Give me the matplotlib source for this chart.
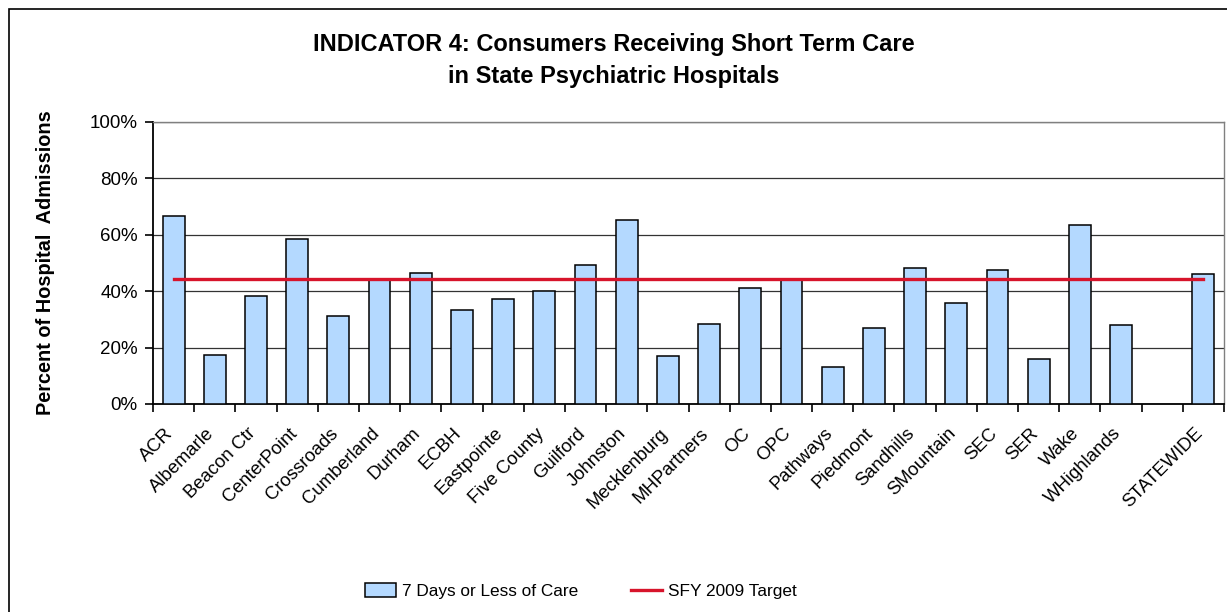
import numpy as np
import matplotlib.pyplot as plt
import matplotlib.transforms as mtransforms
from matplotlib.ticker import PercentFormatter

plt.rcParams['font.family'] = ['Liberation Sans', 'DejaVu Sans']

lmes = ['ACR', 'Albemarle', 'Beacon Ctr', 'CenterPoint', 'Crossroads', 'Cumberland',
        'Durham', 'ECBH', 'Eastpointe', 'Five County', 'Guilford', 'Johnston',
        'Mecklenburg', 'MHPartners', 'OC', 'OPC', 'Pathways', 'Piedmont', 'Sandhills',
        'SMountain', 'SEC', 'SER', 'Wake', 'WHighlands', '', 'STATEWIDE']
pct_7days = [66.7, 17.5, 38.3, 58.5, 31.1, 44.5, 46.5, 33.3, 37.2, 40.0, 49.3, 65.1,
             17.0, 28.5, 41.0, 44.4, 13.2, 26.8, 48.1, 35.7, 47.6, 16.0, 63.5, 27.9,
             np.nan, 46.0]
target = 44.2

x = np.arange(len(lmes))

fig = plt.figure(figsize=(12.27, 6.12), dpi=100)
ax = fig.add_axes([153/1227, 1-404/612, (1224-153)/1227, (404-122)/612])

bars = ax.bar(x, pct_7days, width=0.53, color='#B4D9FF', edgecolor='black', linewidth=1.1,
              label='7 Days or Less of Care', zorder=3)
line, = ax.plot([x[0], x[-1]], [target, target], color='#D7142B', linewidth=2.4,
                label='SFY 2009 Target', zorder=4)

ax.set_xlim(-0.5, len(lmes) - 0.5)
ax.set_ylim(0, 100)
ax.set_yticks(range(0, 101, 20))
ax.yaxis.set_major_formatter(PercentFormatter(decimals=0))
ax.grid(axis='y', color='#333333', linewidth=0.9, zorder=0)
ax.tick_params(axis='y', direction='out', length=6, width=1.2, labelsize=13.5, pad=5)

ax.set_xticks(x)
ax.set_xticklabels(lmes, rotation=45, ha='right', va='top', rotation_mode='anchor',
                   fontsize=13.3)
ax.tick_params(axis='x', which='major', length=0, pad=15)
# nudge the rotated labels a little to the left, like the original
shift = mtransforms.ScaledTranslation(-9/100, 0, fig.dpi_scale_trans)
for lab in ax.get_xticklabels():
    lab.set_transform(lab.get_transform() + shift)
ax.set_xticks(np.arange(-0.5, len(lmes)), minor=True)
ax.tick_params(axis='x', which='minor', direction='out', length=6, width=1.2)

for side in ['left', 'bottom']:
    ax.spines[side].set_color('black')
    ax.spines[side].set_linewidth(1.3)
for side in ['top', 'right']:
    ax.spines[side].set_color('#808080')
    ax.spines[side].set_linewidth(1.0)

ax.set_ylabel('Percent of Hospital  Admissions', fontsize=14.3, fontweight='bold',
              labelpad=25)

fig.text(0.5, 1-61/612, 'INDICATOR 4: Consumers Receiving Short Term Care\nin State Psychiatric Hospitals',
         ha='center', va='center', fontsize=17, fontweight='bold', linespacing=1.5)

fig.legend([bars, line], ['7 Days or Less of Care', 'SFY 2009 Target'],
           loc='center', bbox_to_anchor=(581/1227, 1-591/612), ncol=2, frameon=False,
           fontsize=12.4, handlelength=1.8, handleheight=0.9, handletextpad=0.35,
           columnspacing=3.1)

# outer chart border
fig.add_artist(plt.Rectangle((9/1227, -0.1), 1.2, 1-9/612+0.1, transform=fig.transFigure,
                             fill=False, edgecolor='black', linewidth=1.2))

plt.savefig('out.png', dpi=100)
